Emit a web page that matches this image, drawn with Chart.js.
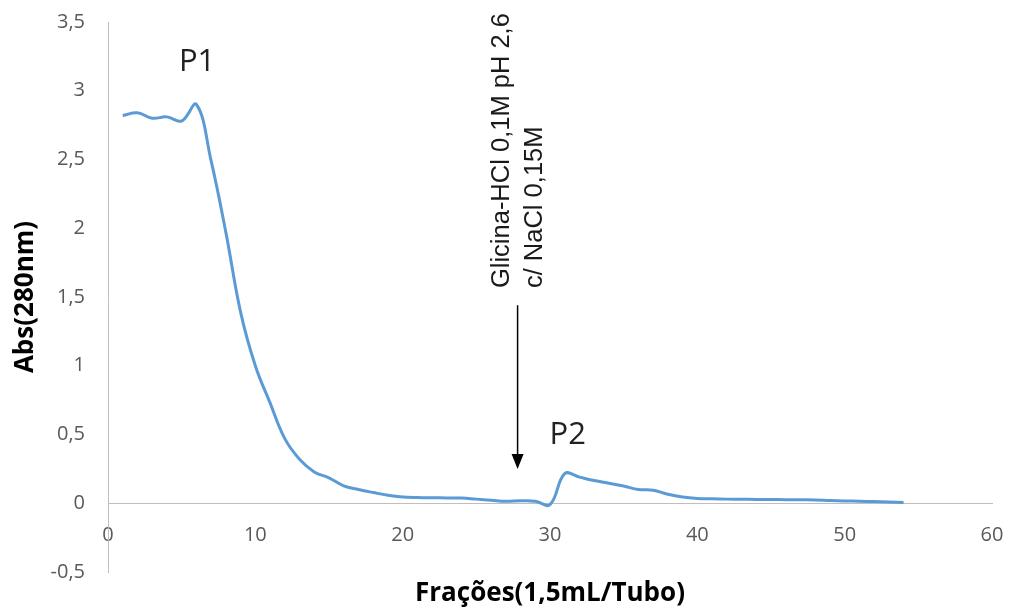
<!DOCTYPE html>
<html>
<head>
<meta charset="utf-8">
<script src="https://cdn.jsdelivr.net/npm/chart.js@4"></script>
<style>
  body { margin: 0; background: #fff; }
  #caixa { width: 1014px; height: 612px; }
</style>
</head>
<body>
<div id="caixa"><canvas id="grafico"></canvas></div>
<script>
// frações coletadas (tubo)
const fracoes = [1, 2, 3, 4, 5, 6, 7, 8, 9, 10, 11, 12, 13, 14, 15, 16, 17, 18, 19, 20,
  21, 22, 23, 24, 25, 26, 27, 28, 29, 30, 31, 32, 33, 34, 35, 36, 37, 38, 39, 40,
  41, 42, 43, 44, 45, 46, 47, 48, 49, 50, 51, 52, 53, 54];
// absorbância a 280nm
const absorbancia = [2.82, 2.84, 2.80, 2.81, 2.78, 2.90, 2.49, 1.97, 1.39, 1.00,
  0.73, 0.47, 0.32, 0.228, 0.185, 0.126, 0.10, 0.078, 0.058, 0.046,
  0.042, 0.040, 0.039, 0.038, 0.030, 0.022, 0.014, 0.018, 0.015, -0.01,
  0.215, 0.19, 0.165, 0.145, 0.125, 0.10, 0.095, 0.065, 0.045, 0.035,
  0.032, 0.030, 0.029, 0.028, 0.027, 0.026, 0.025, 0.024, 0.020, 0.017,
  0.015, 0.012, 0.009, 0.005];

const tituloX = 'Frações(1,5mL/Tubo)';
const tituloY = 'Abs(280nm)';
const textoEluicao = ['Glicina-HCl 0,1M pH 2,6', 'c/ NaCl 0,15M'];

// anotações em coordenadas do gráfico
const picos = [
  { texto: 'P1', x: 6.05, y: 3.21 },
  { texto: 'P2', x: 31.2, y: 0.495 }
];
const linhasEluicaoX = [26.75, 29.0];
const inicioEluicaoY = 1.565;
const seta = { x: 27.8, de: 1.44, ate: 0.25 };

const virgula = v => String(v).replace('.', ',');

const anotacoes = {
  id: 'anotacoes',
  afterDraw(chart) {
    const ctx = chart.ctx;
    const sx = chart.scales.x, sy = chart.scales.y;
    const area = chart.chartArea;
    ctx.save();

    // picos
    ctx.fillStyle = '#222';
    ctx.font = '31px "Open Sans"';
    ctx.textAlign = 'center';
    ctx.textBaseline = 'middle';
    picos.forEach(p => ctx.fillText(p.texto, sx.getPixelForValue(p.x), sy.getPixelForValue(p.y)));

    // texto da eluição (vertical)
    ctx.font = '25.5px "Liberation Sans"';
    ctx.fillStyle = '#1a1a1a';
    ctx.textAlign = 'left';
    textoEluicao.forEach((t, i) => {
      ctx.save();
      ctx.translate(sx.getPixelForValue(linhasEluicaoX[i]), sy.getPixelForValue(inicioEluicaoY));
      ctx.rotate(-Math.PI / 2);
      ctx.fillText(t, 0, 0);
      ctx.restore();
    });

    // seta
    const ax = sx.getPixelForValue(seta.x);
    const y1 = sy.getPixelForValue(seta.de);
    const y2 = sy.getPixelForValue(seta.ate);
    ctx.strokeStyle = '#000';
    ctx.lineWidth = 1.5;
    ctx.beginPath();
    ctx.moveTo(ax, y1);
    ctx.lineTo(ax, y2 - 10);
    ctx.stroke();
    ctx.fillStyle = '#000';
    ctx.beginPath();
    ctx.moveTo(ax - 6, y2 - 15);
    ctx.lineTo(ax + 6, y2 - 15);
    ctx.lineTo(ax, y2);
    ctx.closePath();
    ctx.fill();

    // títulos dos eixos
    ctx.fillStyle = '#000';
    ctx.font = 'bold 26px "Open Sans"';
    ctx.textAlign = 'center';
    ctx.fillText(tituloX, (area.left + area.right) / 2, chart.height - 18);
    ctx.save();
    ctx.translate(26, (area.top + area.bottom) / 2);
    ctx.rotate(-Math.PI / 2);
    ctx.fillText(tituloY, 0, 0);
    ctx.restore();

    ctx.restore();
  }
};

const ctx = document.getElementById('grafico');
new Chart(ctx, {
  type: 'line',
  data: {
    datasets: [{
      label: 'Abs',
      data: fracoes.map((f, i) => ({ x: f, y: absorbancia[i] })),
      borderColor: '#5b9bd5',
      borderWidth: 3,
      pointRadius: 0,
      fill: false,
      tension: 0.4
    }]
  },
  options: {
    responsive: true,
    maintainAspectRatio: false,
    animation: false,
    layout: { padding: { top: 22, right: 22, bottom: 40, left: 0 } },
    plugins: { legend: { display: false }, tooltip: { enabled: false } },
    scales: {
      x: {
        type: 'linear',
        position: { y: 0 },
        min: 0, max: 60,
        grid: { display: false, drawTicks: true, tickLength: 20 },
        border: { display: true, color: '#bfbfbf', width: 1 },
        ticks: { stepSize: 10, padding: 0, color: '#595959', font: { family: 'Open Sans', size: 20 } }
      },
      y: {
        min: -0.5, max: 3.5,
        afterFit: s => { s.width = 108; },
        grid: { display: false, drawTicks: true, tickLength: 23 },
        border: { display: true, color: '#bfbfbf', width: 1 },
        ticks: { stepSize: 0.5, padding: 0, color: '#595959', font: { family: 'Open Sans', size: 20 }, callback: virgula }
      }
    }
  },
  plugins: [anotacoes]
});
</script>
</body>
</html>
